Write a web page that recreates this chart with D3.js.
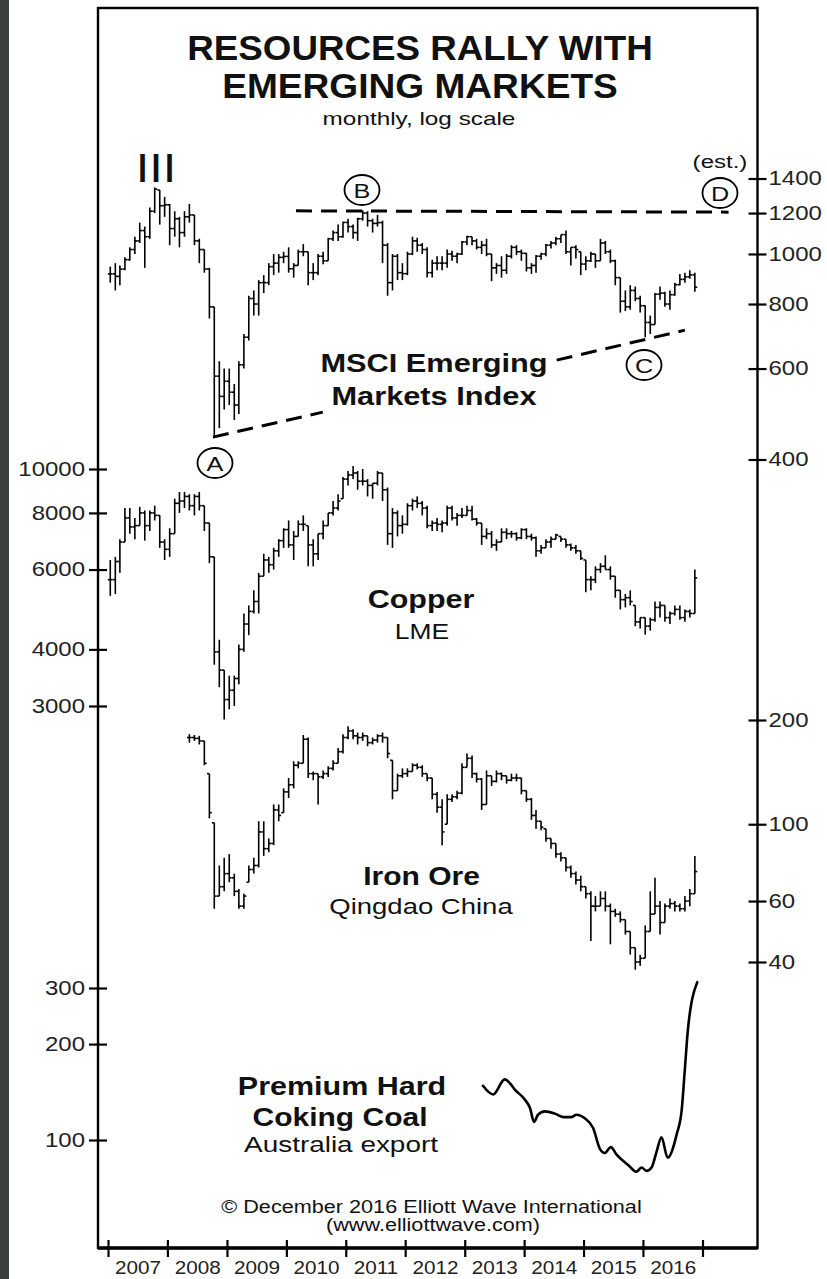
<!DOCTYPE html>
<html>
<head>
<meta charset="utf-8">
<script src="https://cdn.jsdelivr.net/npm/d3@7"></script>
<style>
    body { margin: 0; background: #fff; }
    svg { display: block; font-family: "Liberation Sans", Arial, Helvetica, sans-serif; }
</style>
</head>
<body>
<div id="chart"></div>
<script>
// 月度数据: [high, low, close]
var msciStart = "2007-01";
var msciBars = [
    [945, 880, 915], [960, 850, 905], [950, 870, 935], [985, 930, 975], [1030, 970, 1020], [1080, 1000, 1060],
    [1150, 1050, 1110], [1130, 940, 1080], [1230, 1070, 1210], [1345, 1200, 1335], [1330, 1140, 1240], [1290, 1180, 1245],
    [1250, 1040, 1120], [1210, 1080, 1170], [1180, 1030, 1100], [1210, 1080, 1180], [1250, 1150, 1190], [1190, 1040, 1060],
    [1070, 960, 1020], [1020, 920, 935], [940, 750, 790], [790, 443, 580], [620, 460, 530], [600, 500, 567],
    [600, 510, 540], [560, 477, 510], [620, 490, 610], [700, 600, 690], [830, 680, 820], [850, 760, 800],
    [890, 760, 880], [910, 840, 880], [960, 870, 945], [1000, 910, 960], [1000, 920, 985], [1010, 960, 989],
    [1030, 920, 936], [960, 900, 950], [1020, 950, 1010], [1045, 990, 1010], [1010, 870, 920], [960, 890, 920],
    [1000, 910, 990], [1010, 955, 970], [1075, 970, 1070], [1110, 1060, 1100], [1140, 1060, 1080], [1155, 1075, 1151],
    [1170, 1100, 1130], [1140, 1070, 1100], [1175, 1060, 1170], [1215, 1160, 1200], [1210, 1130, 1160], [1170, 1100, 1146],
    [1190, 1130, 1150], [1160, 960, 1040], [1050, 830, 880], [1000, 850, 990], [1000, 890, 920], [960, 890, 916],
    [1010, 910, 1000], [1080, 995, 1060], [1075, 1010, 1040], [1050, 1000, 1020], [1030, 900, 920], [975, 900, 960],
    [990, 930, 960], [990, 930, 960], [1020, 940, 1000], [1015, 970, 990], [1005, 960, 1000], [1060, 995, 1055],
    [1085, 1040, 1080], [1080, 1040, 1060], [1070, 1020, 1030], [1060, 1000, 1040], [1070, 990, 1000], [1000, 886, 940],
    [960, 915, 950], [990, 900, 930], [1000, 915, 990], [1040, 980, 1030], [1040, 995, 1010], [1020, 970, 1003],
    [1005, 925, 940], [960, 915, 950], [995, 920, 990], [1005, 975, 1000], [1045, 990, 1040], [1060, 1025, 1050],
    [1080, 1040, 1070], [1090, 1050, 1090], [1110, 1000, 1010], [1030, 950, 1030], [1040, 980, 1020], [1010, 910, 956],
    [990, 930, 970], [1010, 965, 1000], [1000, 940, 970], [1070, 970, 1050], [1060, 1000, 1010], [1020, 960, 970],
    [975, 870, 900], [900, 770, 810], [850, 775, 790], [870, 780, 850], [865, 810, 820], [830, 770, 794],
    [795, 690, 737], [760, 700, 730], [840, 730, 836], [865, 815, 840], [845, 790, 800], [850, 780, 834],
    [880, 830, 872], [915, 870, 893], [920, 880, 903], [930, 895, 911], [920, 845, 862]
];

var copperStart = "2007-01";
var copperBars = [
    [6300, 5250, 5700], [6400, 5300, 6250], [7000, 5900, 6900], [8200, 6900, 7800], [8200, 7200, 7450], [7800, 7000, 7500],
    [8250, 7500, 8000], [8100, 6950, 7500], [8100, 7300, 8000], [8300, 7700, 7900], [7900, 6700, 6900], [7000, 6300, 6650],
    [7400, 6400, 7200], [8600, 7200, 8400], [8900, 8000, 8500], [8900, 8200, 8700], [8800, 8100, 8300], [8800, 7900, 8700],
    [8900, 8100, 8300], [8300, 7300, 7600], [7600, 6200, 6400], [6400, 3700, 3950], [4200, 3300, 3600], [3600, 2800, 3100],
    [3500, 2950, 3250], [3500, 3000, 3450], [4100, 3350, 4000], [4800, 3950, 4550], [5000, 4300, 4850], [5400, 4800, 5100],
    [5900, 4800, 5800], [6500, 5800, 6300], [6400, 5900, 6150], [6700, 6000, 6600], [7000, 6400, 6950], [7400, 6700, 7350],
    [7700, 6700, 6800], [7300, 6300, 7100], [7700, 7100, 7550], [7900, 7300, 7550], [7500, 6100, 6800], [7000, 6100, 6500],
    [7200, 6300, 7200], [7700, 7000, 7500], [8000, 7500, 8000], [8500, 7900, 8200], [8800, 8100, 8500], [9600, 8600, 9500],
    [9900, 9200, 9700], [10150, 9500, 9800], [9900, 9000, 9400], [10000, 9200, 9400], [9500, 8700, 9200], [9300, 8600, 9300],
    [9900, 9200, 9800], [9800, 8500, 9000], [9100, 6800, 7200], [8200, 6700, 8000], [8100, 7100, 7500], [7900, 7200, 7550],
    [8400, 7500, 8300], [8600, 8100, 8500], [8700, 8200, 8400], [8500, 7900, 8200], [8300, 7400, 7500], [7700, 7300, 7600],
    [7800, 7300, 7550], [7700, 7250, 7600], [8300, 7500, 8200], [8300, 7700, 7800], [8000, 7500, 7900], [8200, 7800, 7900],
    [8300, 7900, 8100], [8300, 7700, 7750], [7800, 7500, 7600], [7600, 6800, 7100], [7400, 7000, 7200], [7300, 6700, 6800],
    [7000, 6600, 6900], [7400, 6900, 7250], [7400, 7000, 7200], [7300, 7050, 7200], [7250, 6950, 7050], [7400, 7000, 7350],
    [7400, 7000, 7100], [7200, 6950, 7050], [7100, 6400, 6600], [6800, 6500, 6700], [7000, 6700, 6900], [7100, 6700, 7000],
    [7200, 7000, 7150], [7100, 6900, 7000], [7000, 6700, 6800], [6850, 6600, 6700], [6800, 6500, 6600], [6600, 6300, 6350],
    [6300, 5350, 5700], [5800, 5400, 5700], [6100, 5600, 6000], [6200, 5900, 6100], [6450, 6000, 6000], [6100, 5700, 5800],
    [5800, 5200, 5400], [5400, 4900, 5150], [5300, 4950, 5200], [5400, 5000, 5100], [5000, 4500, 4600], [4700, 4450, 4700],
    [4700, 4310, 4500], [4700, 4400, 4650], [5100, 4600, 4950], [5100, 4700, 5000], [5000, 4600, 4700], [4850, 4550, 4800],
    [5000, 4750, 4900], [5000, 4650, 4700], [4900, 4600, 4850], [4900, 4700, 4800], [6000, 4800, 5750]
];

var ironStart = "2008-05";
var ironBars = [
    [182, 172, 178], [181, 174, 177], [180, 170, 174], [174, 148, 150], [140, 104, 108], [101, 57, 62], [76, 62, 66], [80, 64, 72],
    [82, 68, 70], [72, 62, 64], [65, 57, 58], [63, 57, 62], [76, 68, 74], [80, 72, 76],
    [102, 75, 95], [102, 81, 85], [91, 83, 88], [114, 87, 110], [114, 102, 106], [127, 108, 124],
    [136, 119, 130], [152, 127, 148], [152, 145, 150], [181, 150, 176], [178, 136, 140], [142, 134, 140],
    [140, 114, 137], [143, 135, 140], [147, 137, 145], [153, 143, 150], [166, 150, 162], [182, 160, 178],
    [192, 176, 186], [188, 176, 180], [184, 170, 178], [184, 174, 180], [180, 168, 172], [178, 170, 175],
    [182, 172, 180], [184, 172, 178], [178, 155, 160], [153, 118, 125], [140, 125, 138], [145, 136, 140],
    [145, 137, 142], [150, 142, 148], [150, 144, 146], [148, 137, 140], [140, 133, 136], [136, 118, 122],
    [124, 108, 112], [118, 87, 95], [122, 100, 118], [122, 116, 120], [125, 118, 123], [150, 122, 146],
    [160, 146, 155], [158, 136, 140], [141, 132, 135], [136, 110, 114], [143, 114, 138], [138, 129, 133],
    [143, 132, 140], [141, 134, 138], [138, 131, 134], [140, 133, 136], [140, 133, 136], [136, 122, 125],
    [125, 116, 118], [119, 103, 106], [110, 97, 102], [102, 96, 98], [97, 89, 91], [91, 85, 88],
    [88, 80, 82], [83, 78, 80], [80, 73, 75], [76, 70, 72], [73, 67, 69], [71, 64, 66],
    [66, 61, 63], [64, 46, 58], [62, 56, 58], [64, 58, 61], [64, 56, 58], [59, 45, 56],
    [57, 54, 55], [56, 52, 53], [53, 48, 49], [49, 42, 44], [44, 38, 40], [42, 39, 41],
    [51, 41, 49], [64, 49, 55], [70, 55, 58], [60, 48, 52], [59, 52, 58], [61, 57, 59],
    [60, 56, 58], [59, 56, 57], [62, 56, 60], [65, 58, 63], [81, 63, 73]
];

// 煤炭 (澳大利亚出口价)
var coalDates = ["2013-04-23", "2013-06-25", "2013-09-04", "2013-10-04", "2013-11-05", "2014-01-05", "2014-02-06",
    "2014-03-03", "2014-03-27", "2014-05-08", "2014-07-09", "2014-08-29", "2014-10-19", "2014-11-19", "2015-01-09",
    "2015-03-01", "2015-04-11", "2015-05-12", "2015-06-18", "2015-07-23", "2015-10-02", "2015-11-22", "2015-12-23",
    "2016-01-23", "2016-02-23", "2016-03-25", "2016-04-24", "2016-06-01", "2016-07-26", "2016-08-26", "2016-09-12",
    "2016-10-03", "2016-11-30"];
var coalValues = [148, 139, 155, 151, 144, 134, 126, 114, 120, 123, 121, 118, 118, 120, 117, 109, 94, 91, 95, 90,
    83.5, 79.5, 82, 80, 82, 92, 102, 88, 104, 124, 160, 221, 313];

// 趋势线 (B-D 水平线, A-C 上升线, 中间留给文字)
var lineBD = [["2010-03-01", 1212], ["2017-06-10", 1205]];
var lineAC1 = [["2008-10-07", 442], ["2010-08-13", 494]];
var lineAC2 = [["2014-07-20", 623], ["2016-09-15", 712]];

var years = [2007, 2008, 2009, 2010, 2011, 2012, 2013, 2014, 2015, 2016];
var msciTicks = [400, 600, 800, 1000, 1200, 1400];
var copperTicks = [3000, 4000, 6000, 8000, 10000];
var ironTicks = [40, 60, 100, 200];
var coalTicks = [100, 200, 300];

var W = 827, H = 1279;
var frame = {left: 98, right: 757.5, top: 8, bottom: 1248};

var svg = d3.select("#chart").append("svg")
    .attr("width", W)
    .attr("height", H);

svg.append("rect").attr("width", W).attr("height", H).attr("fill", "#fff");
// 左侧深色边条
svg.append("rect").attr("x", 0).attr("y", 0).attr("width", 9).attr("height", H).attr("fill", "#3a3f42");

var parseMonth = d3.timeParse("%Y-%m");
var parseDay = d3.timeParse("%Y-%m-%d");

var x = d3.scaleTime()
    .domain([new Date(2007, 0, 1), new Date(2017, 0, 1)])
    .range([108, 702.5]);

var yMsci = d3.scaleLog().domain([400, 1400]).range([459.5, 178.5]);
var yCopper = d3.scaleLog().domain([3000, 10000]).range([706, 469]);
var yIron = d3.scaleLog().domain([40, 200]).range([962, 720]);
var yCoal = d3.scaleLog().domain([100, 300]).range([1140, 988]);

// 边框
svg.append("rect")
    .attr("x", frame.left).attr("y", frame.top)
    .attr("width", frame.right - frame.left).attr("height", frame.bottom - frame.top)
    .attr("fill", "none").attr("stroke", "#000").attr("stroke-width", 2.4);
svg.append("line")
    .attr("x1", frame.left).attr("x2", frame.right)
    .attr("y1", frame.bottom).attr("y2", frame.bottom)
    .attr("stroke", "#000").attr("stroke-width", 3.5);

function label(txt, cx, base, size, weight, sx) {
    return svg.append("text")
        .attr("transform", "translate(" + cx + "," + base + ") scale(" + sx + ",1)")
        .attr("text-anchor", "middle")
        .attr("font-size", size)
        .attr("font-weight", weight)
        .attr("fill", "#111")
        .text(txt);
}

function drawBars(bars, start, y) {
    var t0 = parseMonth(start);
    var rows = bars.map(function (d, i) {
        var m = d3.timeMonth.offset(t0, i);
        var open = i > 0 ? bars[i - 1][2] : d[2];
        open = Math.max(d[1], Math.min(d[0], open));
        return {cx: x(d3.timeDay.offset(m, 14)), hi: d[0], lo: d[1], open: open, close: d[2]};
    });
    var g = svg.append("g").attr("stroke", "#000").attr("stroke-width", 1.6);
    g.selectAll(".hl").data(rows).enter().append("line")
        .attr("x1", function (d) { return d.cx; })
        .attr("x2", function (d) { return d.cx; })
        .attr("y1", function (d) { return y(d.hi); })
        .attr("y2", function (d) { return y(d.lo); });
    g.selectAll(".op").data(rows).enter().append("line")
        .attr("x1", function (d) { return d.cx - 2.4; })
        .attr("x2", function (d) { return d.cx; })
        .attr("y1", function (d) { return y(d.open); })
        .attr("y2", function (d) { return y(d.open); });
    g.selectAll(".cl").data(rows).enter().append("line")
        .attr("x1", function (d) { return d.cx; })
        .attr("x2", function (d) { return d.cx + 2.4; })
        .attr("y1", function (d) { return y(d.close); })
        .attr("y2", function (d) { return y(d.close); });
}

drawBars(msciBars, msciStart, yMsci);
drawBars(copperBars, copperStart, yCopper);
drawBars(ironBars, ironStart, yIron);

// 煤炭折线
var coal = coalDates.map(function (d, i) {
    return {date: parseDay(d), v: coalValues[i]};
});
svg.append("path")
    .datum(coal)
    .attr("fill", "none")
    .attr("stroke", "#000")
    .attr("stroke-width", 2.6)
    .attr("stroke-linejoin", "round")
    .attr("stroke-linecap", "round")
    .attr("d", d3.line()
        .curve(d3.curveMonotoneX)
        .x(function (d) { return x(d.date); })
        .y(function (d) { return yCoal(d.v); }));

// 虚线
var dashLine = d3.line()
    .x(function (d) { return x(parseDay(d[0])); })
    .y(function (d) { return yMsci(d[1]); });
[lineBD, lineAC1, lineAC2].forEach(function (seg) {
    svg.append("path")
        .datum(seg)
        .attr("fill", "none")
        .attr("stroke", "#000")
        .attr("stroke-width", 3)
        .attr("stroke-dasharray", "16,9")
        .attr("d", dashLine);
});

// 侧轴
function sideAxis(axis, xpos, ticks, right) {
    var g = svg.append("g")
        .attr("transform", "translate(" + xpos + ",0)")
        .call(axis.tickValues(ticks).tickFormat(d3.format("d")).tickSize(9));
    g.attr("font-family", null).attr("font-size", 20);
    g.select(".domain").remove();
    g.selectAll(".tick line")
        .attr("x1", right ? -9 : 9)
        .attr("stroke", "#000")
        .attr("stroke-width", 2.2);
    g.selectAll(".tick text")
        .attr("x", (right ? 11 : -13) / 1.2)
        .attr("transform", "scale(1.2,1)")
        .attr("fill", "#222");
}
sideAxis(d3.axisRight(yMsci), frame.right, msciTicks, true);
sideAxis(d3.axisRight(yIron), frame.right, ironTicks, true);
sideAxis(d3.axisLeft(yCopper), frame.left, copperTicks, false);
sideAxis(d3.axisLeft(yCoal), frame.left, coalTicks, false);

// 年份轴
var xTicks = svg.append("g")
    .attr("transform", "translate(0," + frame.bottom + ")")
    .call(d3.axisBottom(x).ticks(d3.timeYear.every(1)).tickSize(9).tickFormat(""));
xTicks.select(".domain").remove();
xTicks.selectAll(".tick line").attr("y1", -8).attr("stroke", "#000").attr("stroke-width", 2.2);

var xLabels = svg.append("g")
    .attr("transform", "translate(0," + frame.bottom + ")")
    .call(d3.axisBottom(x)
        .tickValues(years.map(function (y) { return new Date(y, 6, 2); }))
        .tickSize(0).tickPadding(13)
        .tickFormat(d3.timeFormat("%Y")));
xLabels.attr("font-family", null).attr("font-size", 18);
xLabels.select(".domain").remove();
xLabels.selectAll(".tick text").attr("transform", "scale(1.15,1)").attr("fill", "#222");

// 标题与标签
label("RESOURCES RALLY WITH", 420, 60, 35, "bold", 1.05);
label("EMERGING MARKETS", 420, 98, 35, "bold", 1.06);
label("monthly, log scale", 419, 125, 19, "normal", 1.28);

label("III", 156, 182, 40, "normal", 1.22);
label("(est.)", 720, 168, 18.5, "normal", 1.3);

var waves = [["A", 215, 463], ["B", 362, 190], ["C", 644, 365], ["D", 720, 193]];
waves.forEach(function (w) {
    svg.append("ellipse")
        .attr("cx", w[1]).attr("cy", w[2]).attr("rx", 17.5).attr("ry", 15)
        .attr("fill", "#fff").attr("stroke", "#000").attr("stroke-width", 1.8);
    label(w[0], w[1], w[2] + 7.5, 21, "normal", 1.2);
});

label("MSCI Emerging", 434, 372, 25, "bold", 1.23);
label("Markets Index", 434, 405, 25, "bold", 1.23);
label("Copper", 421, 608, 25, "bold", 1.22);
label("LME", 422, 639, 22, "normal", 1.2);
label("Iron Ore", 421.5, 885, 25, "bold", 1.2);
label("Qingdao China", 421, 913.5, 22, "normal", 1.25);
label("Premium Hard", 342, 1095, 25, "bold", 1.22);
label("Coking Coal", 340, 1126, 25, "bold", 1.2);
label("Australia export", 341, 1152, 22, "normal", 1.27);

label("\u00A9 December 2016 Elliott Wave International", 431.5, 1213, 18.5, "normal", 1.17);
label("(www.elliottwave.com)", 433, 1231, 18.5, "normal", 1.17);
</script>
</body>
</html>
